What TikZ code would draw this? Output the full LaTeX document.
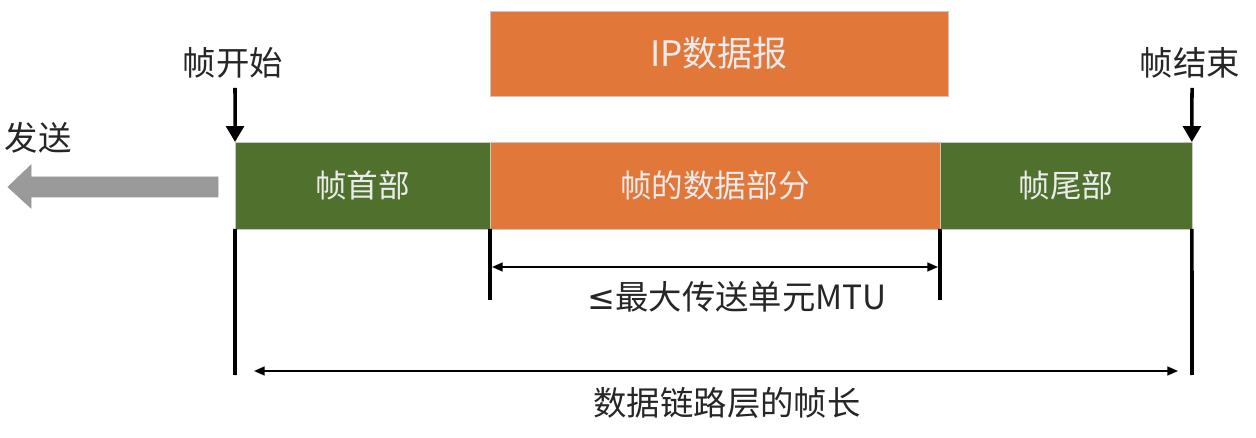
\documentclass[tikz,border=0pt]{standalone}
\usepackage{fontspec}
\setmainfont{Noto Sans CJK SC}
\newfontfamily\symfont{DejaVu Sans}
\usetikzlibrary{positioning,arrows.meta}

\definecolor{frameorange}{HTML}{E2773A}
\definecolor{framegreen}{HTML}{50702E}
\definecolor{sendgray}{HTML}{9A9A9A}

\begin{document}
\begin{tikzpicture}[
    x=0.02cm, y=-0.02cm,
    % --- Styles ---
    part box/.style={rectangle, draw=gray!45, line width=0.4pt, outer sep=0pt,
        minimum height=1.74cm, text=white!92!black, font=\fontsize{18}{21}\selectfont},
    % Green boxes for head and tail
    head box/.style={part box, fill=framegreen},
    % Orange boxes for the payload
    data box/.style={part box, fill=frameorange},
    label text/.style={font=\fontsize{19}{22}\selectfont, text=black!85},
    mark arrow/.style={line width=2pt, -{Triangle[length=9pt,width=10pt]}},
    tick line/.style={line width=2.1pt},
    span arrow/.style={line width=1pt, {Triangle[length=6pt,width=5pt]}-{Triangle[length=6pt,width=5pt]}}
]

%================CONFIGURATION================
% \ymtu, \ylen: heights of the two span arrows
\def\ymtu{267}
\def\ylen{371}
%=============================================

\useasboundingbox (0,0) rectangle (1256,438);

% --- 1. Frame row ---
\node[head box, minimum width=5.1cm] (head) at (362.5,185.5) {帧首部};
\node[data box, minimum width=9cm, right=0pt of head] (data) {帧的数据部分};
\node[head box, minimum width=5.04cm, right=0pt of data] (tail) {帧尾部};

% --- 2. IP datagram above ---
\node[data box, minimum width=9.16cm, minimum height=1.7cm,
      font=\fontsize{20}{23}\selectfont] (ip) at (719,53.5) {IP数据报};

% --- 3. Start and end marks ---
\node[label text] (start) at (233,63) {帧开始};
\node[label text] (stop) at (1190,63) {帧结束};
\coordinate (startTop) at (235,88);
\coordinate (stopTop) at (1192,88);
\draw[mark arrow] (startTop) -- (head.north west);
\draw[mark arrow] (stopTop) -- (tail.north east);

% --- 4. Send direction ---
\node[label text] (send) at (38,138) {发送};
\fill[sendgray, draw=gray!80, line width=0.4pt]
    (218,177) -- (31,177) -- (31,165) -- (8,187) -- (31,208) -- (31,197) -- (218,197) -- cycle;

% --- 5. Ticks below the row ---
\coordinate (headLow) at (235,375);
\coordinate (dataLeftLow) at (490,300);
\coordinate (dataRightLow) at (940,300);
\coordinate (tailLow) at (1192,375);
\draw[tick line] (head.south west) -- (headLow);
\draw[tick line] (data.south west) -- (dataLeftLow);
\draw[tick line] (data.south east) -- (dataRightLow);
\draw[tick line] (tail.south east) -- (tailLow);

% --- 6. Span arrows and their labels ---
\coordinate (mtuL) at (492,\ymtu);
\coordinate (mtuR) at (938,\ymtu);
\draw[span arrow] (mtuL) -- (mtuR);
\node[label text] (mtu) at (737,297) {{\symfont ≤}最大传送单元MTU};

\coordinate (lenL) at (254,\ylen);
\coordinate (lenR) at (1178,\ylen);
\draw[span arrow] (lenL) -- (lenR);
\node[label text] (len) at (727,403) {数据链路层的帧长};

\end{tikzpicture}
\end{document}
